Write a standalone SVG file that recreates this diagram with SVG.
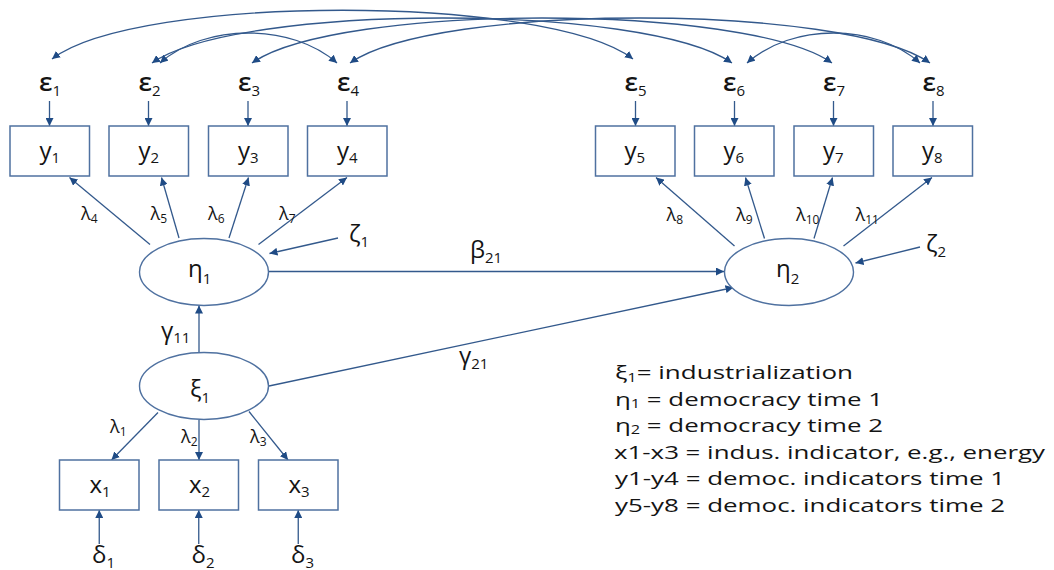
<svg xmlns="http://www.w3.org/2000/svg" width="1054" height="570" viewBox="0 0 1054 570">
<style>
.box{fill:#fff;stroke:#4F71A0;stroke-width:1.5}
.ell{fill:#fff;stroke:#4F71A0;stroke-width:1.4}
.c{fill:none;stroke:#33598C;stroke-width:1.3}
.t{font-family:"Open Sans","Liberation Sans",sans-serif;fill:#141414}
.m{font-size:24px}
.e{font-size:26px;font-weight:600}
.s{font-size:15px;font-weight:400}
.l{font-size:18px}
.ls{font-size:12px}
.lg{font-size:19px}
.lgs{font-size:12px}
</style>
<defs>
<marker id="ah" viewBox="0 0 8 8" refX="8" refY="4" markerWidth="8" markerHeight="8" markerUnits="userSpaceOnUse" orient="auto-start-reverse">
<path d="M0,0 L8,4 L0,8 z" fill="#1F4B85"/>
</marker>
</defs>

<g id="connectors">
<path class="c" d="M52,59 C137,-6 548,-6 633,59" marker-start="url(#ah)" marker-end="url(#ah)"/>
<path class="c" d="M152,63 C237,3 647,3 732,63" marker-start="url(#ah)" marker-end="url(#ah)"/>
<path class="c" d="M252,63 C337,3 747,3 832,63" marker-start="url(#ah)" marker-end="url(#ah)"/>
<path class="c" d="M350,63 C435,3 845,3 930,63" marker-start="url(#ah)" marker-end="url(#ah)"/>
<path class="c" d="M160,63 C205,23 292,23 337,63" marker-start="url(#ah)" marker-end="url(#ah)"/>
<path class="c" d="M747,63 C792,23 875,23 920,63" marker-start="url(#ah)" marker-end="url(#ah)"/>
<line class="c" x1="49.5" y1="101" x2="49.5" y2="126" marker-end="url(#ah)"/>
<line class="c" x1="148.5" y1="101" x2="148.5" y2="126" marker-end="url(#ah)"/>
<line class="c" x1="248" y1="101" x2="248" y2="126" marker-end="url(#ah)"/>
<line class="c" x1="347" y1="101" x2="347" y2="126" marker-end="url(#ah)"/>
<line class="c" x1="635.5" y1="101" x2="635.5" y2="126" marker-end="url(#ah)"/>
<line class="c" x1="734.5" y1="101" x2="734.5" y2="126" marker-end="url(#ah)"/>
<line class="c" x1="833.5" y1="101" x2="833.5" y2="126" marker-end="url(#ah)"/>
<line class="c" x1="933" y1="101" x2="933" y2="126" marker-end="url(#ah)"/>
<line class="c" x1="150" y1="244.5" x2="69.5" y2="177.5" marker-end="url(#ah)"/>
<line class="c" x1="179" y1="238" x2="161.5" y2="177.5" marker-end="url(#ah)"/>
<line class="c" x1="229" y1="238" x2="248.5" y2="177.5" marker-end="url(#ah)"/>
<line class="c" x1="258.5" y1="244.5" x2="347" y2="177.5" marker-end="url(#ah)"/>
<line class="c" x1="734.5" y1="246" x2="656" y2="177.5" marker-end="url(#ah)"/>
<line class="c" x1="764.5" y1="238.5" x2="745.5" y2="177.5" marker-end="url(#ah)"/>
<line class="c" x1="814" y1="238.5" x2="832.5" y2="177.5" marker-end="url(#ah)"/>
<line class="c" x1="843.5" y1="246" x2="932" y2="177.5" marker-end="url(#ah)"/>
<line class="c" x1="338" y1="238" x2="269.5" y2="253.5" marker-end="url(#ah)"/>
<line class="c" x1="920" y1="247" x2="855.5" y2="263" marker-end="url(#ah)"/>
<line class="c" x1="269" y1="271.5" x2="724" y2="271.5" marker-end="url(#ah)"/>
<line class="c" x1="269" y1="386" x2="733.5" y2="287.5" marker-end="url(#ah)"/>
<line class="c" x1="199" y1="352.5" x2="199" y2="305.5" marker-end="url(#ah)"/>
<line class="c" x1="158" y1="412.5" x2="111.5" y2="460" marker-end="url(#ah)"/>
<line class="c" x1="199" y1="420" x2="199" y2="460" marker-end="url(#ah)"/>
<line class="c" x1="249" y1="411.5" x2="288" y2="460" marker-end="url(#ah)"/>
<line class="c" x1="99.25" y1="544" x2="99.25" y2="510" marker-end="url(#ah)"/>
<line class="c" x1="198.75" y1="544" x2="198.75" y2="510" marker-end="url(#ah)"/>
<line class="c" x1="298.25" y1="544" x2="298.25" y2="510" marker-end="url(#ah)"/>
</g>

<g id="connector-labels">
<text class="t l" x="81" y="220">λ<tspan class="ls" dy="3">4</tspan></text>
<text class="t l" x="150.5" y="220">λ<tspan class="ls" dy="3">5</tspan></text>
<text class="t l" x="208" y="220">λ<tspan class="ls" dy="3">6</tspan></text>
<text class="t l" x="279" y="220">λ<tspan class="ls" dy="3">7</tspan></text>
<text class="t l" x="666.5" y="221">λ<tspan class="ls" dy="3">8</tspan></text>
<text class="t l" x="736" y="221">λ<tspan class="ls" dy="3">9</tspan></text>
<text class="t l" x="796" y="221">λ<tspan class="ls" dy="3">10</tspan></text>
<text class="t l" x="855.5" y="221">λ<tspan class="ls" dy="3">11</tspan></text>
<text class="t l" x="110" y="433">λ<tspan class="ls" dy="3">1</tspan></text>
<text class="t l" x="181" y="443">λ<tspan class="ls" dy="3">2</tspan></text>
<text class="t l" x="250" y="443">λ<tspan class="ls" dy="3">3</tspan></text>
<text class="t m" x="470" y="258">β<tspan class="s" dy="5">21</tspan></text>
<text class="t m" x="161" y="339">γ<tspan class="s" dy="4">11</tspan></text>
<text class="t m" x="459" y="364">γ<tspan class="s" dy="5">21</tspan></text>
</g>

<g id="eps1"><text class="t e" x="39" y="91">ε<tspan class="s" dy="5">1</tspan></text></g>
<g id="eps2"><text class="t e" x="138.5" y="91">ε<tspan class="s" dy="5">2</tspan></text></g>
<g id="eps3"><text class="t e" x="238" y="91">ε<tspan class="s" dy="5">3</tspan></text></g>
<g id="eps4"><text class="t e" x="337" y="91">ε<tspan class="s" dy="5">4</tspan></text></g>
<g id="eps5"><text class="t e" x="624.5" y="91">ε<tspan class="s" dy="5">5</tspan></text></g>
<g id="eps6"><text class="t e" x="723" y="91">ε<tspan class="s" dy="5">6</tspan></text></g>
<g id="eps7"><text class="t e" x="823" y="91">ε<tspan class="s" dy="5">7</tspan></text></g>
<g id="eps8"><text class="t e" x="922.5" y="91">ε<tspan class="s" dy="5">8</tspan></text></g>

<g id="y1"><rect class="box" x="10" y="126" width="79.5" height="50"/><text class="t m" x="39.5" y="159">y<tspan class="s" dy="4">1</tspan></text></g>
<g id="y2"><rect class="box" x="109" y="126" width="79.5" height="50"/><text class="t m" x="138.5" y="159">y<tspan class="s" dy="4">2</tspan></text></g>
<g id="y3"><rect class="box" x="208.5" y="126" width="79.5" height="50"/><text class="t m" x="238" y="159">y<tspan class="s" dy="4">3</tspan></text></g>
<g id="y4"><rect class="box" x="307.5" y="126" width="79.5" height="50"/><text class="t m" x="337" y="159">y<tspan class="s" dy="4">4</tspan></text></g>
<g id="y5"><rect class="box" x="595.5" y="126" width="79.5" height="50"/><text class="t m" x="624.5" y="159">y<tspan class="s" dy="4">5</tspan></text></g>
<g id="y6"><rect class="box" x="694.5" y="126" width="79.5" height="50"/><text class="t m" x="723.5" y="159">y<tspan class="s" dy="4">6</tspan></text></g>
<g id="y7"><rect class="box" x="794" y="126" width="79.5" height="50"/><text class="t m" x="823" y="159">y<tspan class="s" dy="4">7</tspan></text></g>
<g id="y8"><rect class="box" x="893" y="126" width="79.5" height="50"/><text class="t m" x="922" y="159">y<tspan class="s" dy="4">8</tspan></text></g>

<g id="eta1"><ellipse class="ell" cx="204" cy="272" rx="64.5" ry="33.5"/><text class="t m" x="188" y="277">η<tspan class="s" dy="7">1</tspan></text></g>
<g id="eta2"><ellipse class="ell" cx="789" cy="272" rx="64.5" ry="33.5"/><text class="t m" x="776" y="277">η<tspan class="s" dy="7">2</tspan></text></g>
<g id="zeta1"><text class="t m" x="349" y="242">ζ<tspan class="s" dy="5">1</tspan></text></g>
<g id="zeta2"><text class="t m" x="926" y="252">ζ<tspan class="s" dy="5">2</tspan></text></g>
<g id="xi1"><ellipse class="ell" cx="204" cy="386" rx="64.5" ry="33.5"/><text class="t m" x="190" y="397">ξ<tspan class="s" dy="6">1</tspan></text></g>

<g id="x1"><rect class="box" x="59.5" y="460" width="79.5" height="50"/><text class="t m" x="89.5" y="493">x<tspan class="s" dy="3.5">1</tspan></text></g>
<g id="x2"><rect class="box" x="159" y="460" width="79.5" height="50"/><text class="t m" x="189" y="493">x<tspan class="s" dy="3.5">2</tspan></text></g>
<g id="x3"><rect class="box" x="258.5" y="460" width="79.5" height="50"/><text class="t m" x="288.5" y="493">x<tspan class="s" dy="3.5">3</tspan></text></g>

<g id="delta1"><text class="t m" x="92" y="563">δ<tspan class="s" dy="5">1</tspan></text></g>
<g id="delta2"><text class="t m" x="191.5" y="563">δ<tspan class="s" dy="5">2</tspan></text></g>
<g id="delta3"><text class="t m" x="291" y="563">δ<tspan class="s" dy="5">3</tspan></text></g>

<g id="legend">
<text class="t lg" x="615" y="379" textLength="238" lengthAdjust="spacingAndGlyphs">ξ<tspan class="lgs" dy="3">1</tspan><tspan dy="-3">= industrialization</tspan></text>
<text class="t lg" x="615" y="405.5" textLength="268" lengthAdjust="spacingAndGlyphs">η<tspan class="lgs" dy="2">1</tspan><tspan dy="-2"> = democracy time 1</tspan></text>
<text class="t lg" x="615" y="432" textLength="268" lengthAdjust="spacingAndGlyphs">η<tspan class="lgs" dy="2">2</tspan><tspan dy="-2"> = democracy time 2</tspan></text>
<text class="t lg" x="614" y="458.5" textLength="431" lengthAdjust="spacingAndGlyphs">x1-x3 = indus. indicator, e.g., energy</text>
<text class="t lg" x="615" y="485" textLength="390" lengthAdjust="spacingAndGlyphs">y1-y4 = democ. indicators time 1</text>
<text class="t lg" x="615" y="511.5" textLength="390" lengthAdjust="spacingAndGlyphs">y5-y8 = democ. indicators time 2</text>
</g>
</svg>
